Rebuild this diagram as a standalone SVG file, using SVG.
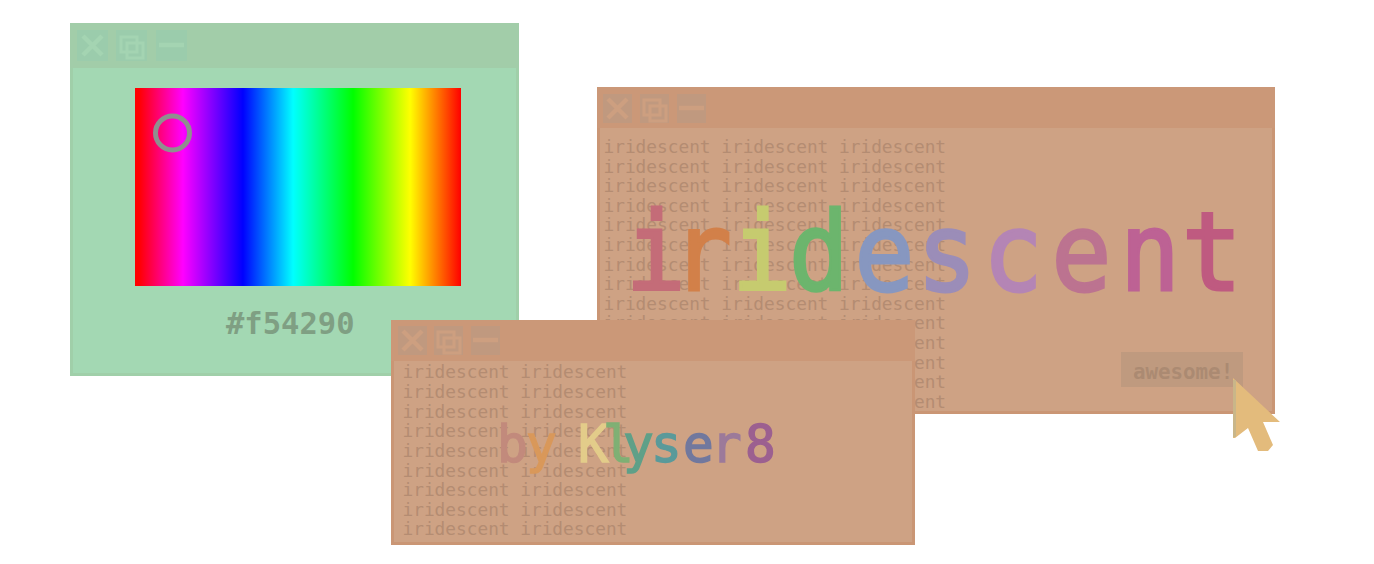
<svg xmlns="http://www.w3.org/2000/svg" width="1374" height="564" viewBox="0 0 1374 564">
<style>
text{font-family:"DejaVu Sans Mono","Liberation Mono",monospace;white-space:pre}
.g-win{fill:#a3d8b3;stroke:#a0cfa9;stroke-width:3}
.g-bar{fill:#a2cda9}
.g-btn{fill:#9bccac}
.g-ico{fill:none;stroke:#a4d4b2}
.o-win{fill:#cea284;stroke:#ca9675;stroke-width:3}
.o-bar{fill:#cb9878}
.o-btn{fill:#c0997f}
.o-ico{fill:none;stroke:#cd9f80}
.fill{font-size:17.800px;fill:#b48c72}
.big{stroke-width:4.500}
.thin{stroke-width:3}
</style>
<defs>
<linearGradient id="hue">
<stop offset="0" stop-color="#f00"/><stop offset=".012" stop-color="#f00"/><stop offset=".147" stop-color="#f0f"/><stop offset=".331" stop-color="#00f"/><stop offset=".485" stop-color="#0ff"/><stop offset=".669" stop-color="#0f0"/><stop offset=".844" stop-color="#ff0"/><stop offset="1" stop-color="#f00"/>
</linearGradient>
<g id="icoX"><path class="big" d="M6 6L25 25M25 6L6 25"/></g>
<g id="icoC"><path class="thin" d="M5 7h16v15h-16zM11 13h16v15h-16z"/></g>
<g id="icoM"><path class="big" d="M3 15H28"/></g>
</defs>

<g id="window-picker">
<rect class="g-win" x="71.500" y="24.500" width="446" height="350"/>
<rect class="g-bar" x="70" y="23" width="449" height="45"/>
<rect class="g-btn" x="77" y="30" width="31" height="31"/>
<rect class="g-btn" x="116" y="30" width="31" height="31"/>
<rect class="g-btn" x="156" y="30" width="31" height="31"/>
<use href="#icoX" class="g-ico" x="77" y="30"/>
<use href="#icoC" class="g-ico" x="116" y="30"/>
<use href="#icoM" class="g-ico" x="156" y="30"/>
<rect x="135" y="88" width="326" height="198" fill="url(#hue)"/>
<circle cx="172.500" cy="133" r="17" fill="none" stroke="#8f8f8f" stroke-width="5"/>
<text x="226" y="334" font-size="30.500" font-weight="bold" fill="#7f9f83">#f54290</text>
</g>

<g id="window-main">
<rect class="o-win" x="598.500" y="88.500" width="675" height="324"/>
<rect class="o-bar" x="597" y="87" width="678" height="41"/>
<rect class="o-btn" x="603" y="94" width="29" height="29"/>
<rect class="o-btn" x="640" y="94" width="29" height="29"/>
<rect class="o-btn" x="677" y="94" width="29" height="29"/>
<use href="#icoX" class="o-ico" x="602" y="93"/>
<use href="#icoC" class="o-ico" x="639" y="93"/>
<use href="#icoM" class="o-ico" x="676" y="93"/>
<text class="fill" x="603.500" y="152.500">iridescent iridescent iridescent</text>
<text class="fill" x="603.500" y="172.500">iridescent iridescent iridescent</text>
<text class="fill" x="603.500" y="192">iridescent iridescent iridescent</text>
<text class="fill" x="603.500" y="211.500">iridescent iridescent iridescent</text>
<text class="fill" x="603.500" y="231">iridescent iridescent iridescent</text>
<text class="fill" x="603.500" y="251">iridescent iridescent iridescent</text>
<text class="fill" x="603.500" y="270.500">iridescent iridescent iridescent</text>
<text class="fill" x="603.500" y="290">iridescent iridescent iridescent</text>
<text class="fill" x="603.500" y="310">iridescent iridescent iridescent</text>
<text class="fill" x="603.500" y="329">iridescent iridescent iridescent</text>
<text class="fill" x="603.500" y="349">iridescent iridescent iridescent</text>
<text class="fill" x="603.500" y="369">iridescent iridescent iridescent</text>
<text class="fill" x="603.500" y="388">iridescent iridescent iridescent</text>
<text class="fill" x="603.500" y="408">iridescent iridescent iridescent</text>
<text transform="translate(623,290) scale(.92,1)" font-size="108" stroke-width="3" x="3 53.300 118.500 180.400 251.600 319.600 391.300 465.800 540.200 607.600"><tspan fill="#c46c78" stroke="#c46c78">i</tspan><tspan fill="#d28049" stroke="#d28049">r</tspan><tspan fill="#c6cb6f" stroke="#c6cb6f">i</tspan><tspan fill="#6cb56d" stroke="#6cb56d">d</tspan><tspan fill="#8797c0" stroke="#8797c0">e</tspan><tspan fill="#9b8db8" stroke="#9b8db8">s</tspan><tspan fill="#b485b5" stroke="#b485b5">c</tspan><tspan fill="#bc7390" stroke="#bc7390">e</tspan><tspan fill="#bd6294" stroke="#bd6294">n</tspan><tspan fill="#bf5a80" stroke="#bf5a80">t</tspan></text>
<rect x="1121" y="352" width="122" height="35" fill="#bf9a7f"/>
<text x="1133" y="379" font-size="20.800" font-weight="bold" fill="#ab8a72">awesome!</text>
</g>

<g id="window-credit">
<rect class="o-win" x="392.500" y="321.500" width="521" height="222"/>
<rect class="o-bar" x="391" y="320" width="524" height="41"/>
<rect class="o-btn" x="398" y="326" width="29" height="29"/>
<rect class="o-btn" x="434" y="326" width="29" height="29"/>
<rect class="o-btn" x="471" y="326" width="29" height="29"/>
<use href="#icoX" class="o-ico" x="397" y="325"/>
<use href="#icoC" class="o-ico" x="433" y="325"/>
<use href="#icoM" class="o-ico" x="470" y="325"/>
<text class="fill" x="402.500" y="378">iridescent iridescent</text>
<text class="fill" x="402.500" y="398">iridescent iridescent</text>
<text class="fill" x="402.500" y="417.500">iridescent iridescent</text>
<text class="fill" x="402.500" y="437">iridescent iridescent</text>
<text class="fill" x="402.500" y="457">iridescent iridescent</text>
<text class="fill" x="402.500" y="476.500">iridescent iridescent</text>
<text class="fill" x="402.500" y="496">iridescent iridescent</text>
<text class="fill" x="402.500" y="515.500">iridescent iridescent</text>
<text class="fill" x="402.500" y="535">iridescent iridescent</text>
<text y="462" font-size="51" stroke-width="1.500" x="497 526 557 578 603 623 651 683 711 745"><tspan fill="#c28a7c" stroke="#c28a7c">b</tspan><tspan fill="#d9985a" stroke="#d9985a">y</tspan><tspan> </tspan><tspan fill="#e3cc8a" stroke="#e3cc8a">K</tspan><tspan fill="#7fb074" stroke="#7fb074">l</tspan><tspan fill="#5fa088" stroke="#5fa088">y</tspan><tspan fill="#5a9a9a" stroke="#5a9a9a">s</tspan><tspan fill="#71789e" stroke="#71789e">e</tspan><tspan fill="#9c7a9a" stroke="#9c7a9a">r</tspan><tspan fill="#9c6090" stroke="#9c6090">8</tspan></text>
</g>

<g id="cursor">
<path d="M1233 378L1280 422H1263L1273 445L1268 451H1258L1248 428L1235 438H1233Z" fill="#e3bb7c"/>
<path d="M1234.500 380V437" stroke="#c9b689" stroke-width="3" fill="none"/>
</g>
</svg>
